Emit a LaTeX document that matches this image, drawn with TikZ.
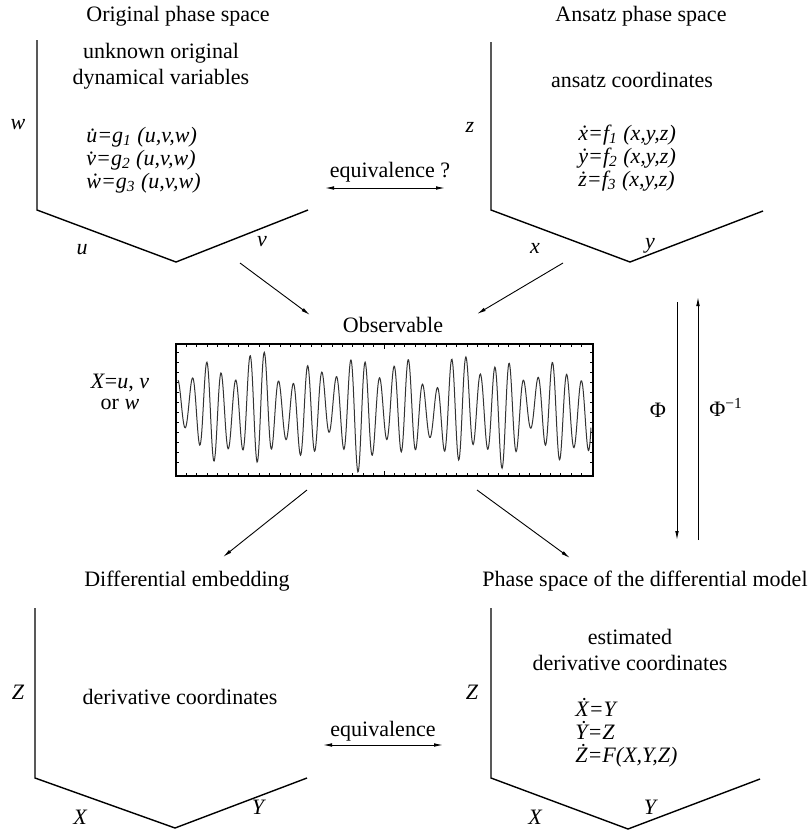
\documentclass[tikz,border=0pt]{standalone}
\usepackage{fontspec}
\setmainfont{Liberation Serif}
\usetikzlibrary{arrows.meta}
\begin{document}
\begin{tikzpicture}[x=0.5pt,y=-0.5pt,
  txt/.style={font=\fontsize{11}{13}\selectfont, inner sep=0pt},
  lbl/.style={font=\fontsize{11}{13}\selectfont\itshape, inner sep=0pt},
  eqs/.style={font=\fontsize{11}{11.5}\selectfont\itshape, inner sep=0pt, anchor=west, align=left},
  axisline/.style={line width=0.7pt, line join=miter},
  arr/.style={line width=0.45pt, -{Latex[length=4.5pt,width=1.8pt]}},
  darr/.style={line width=0.45pt, {Latex[length=4.5pt,width=1.8pt]}-{Latex[length=4.5pt,width=1.8pt]}},
  wave/.style={line width=0.5pt, black!80},
  tick/.style={line width=0.35pt}]
\useasboundingbox (0,0) rectangle (812,831);

% ---------- top-left panel
\node[txt] (tTL) at (178,16) {Original phase space};
\draw[axisline] (37,40) -- (37,210) -- (176,262) -- (308,210);
\node[txt, align=center] (dTL) at (161,66) {unknown original\\dynamical variables};
\node[eqs] (eTL) at (86,160) {\.u=g\textsubscript{1} (u,v,w)\\\.v=g\textsubscript{2} (u,v,w)\\\.w=g\textsubscript{3} (u,v,w)};
\node[lbl] (lw) at (18,125) {w};
\node[lbl] (lu) at (82,250) {u};
\node[lbl] (lv) at (262,242) {v};

% ---------- top-right panel
\node[txt] (tTR) at (641,16) {Ansatz phase space};
\draw[axisline] (491,42) -- (491,210) -- (630,262) -- (763,211);
\node[txt] (dTR) at (632,80) {ansatz coordinates};
\node[eqs] (eTR) at (578,158) {\.x=f\textsubscript{1} (x,y,z)\\\.y=f\textsubscript{2} (x,y,z)\\\.z=f\textsubscript{3} (x,y,z)};
\node[lbl] (lz) at (470,127) {z};
\node[lbl] (lx) at (535,248) {x};
\node[lbl] (ly) at (650,246) {y};

% ---------- equivalence ?
\node[txt] (eq1) at (390,172) {equivalence ?};
\coordinate (eq1l) at (325,188);
\coordinate (eq1r) at (445,188);
\draw[darr] (eq1l) -- (eq1r);

% ---------- observable
\node[txt] (obs) at (393,325) {Observable};
\node[draw, line width=0.6pt, minimum width=208.5pt, minimum height=66pt, inner sep=0pt] (box) at (384.5,410) {};
\foreach \tx in {186.4,196.8,...,590} {
  \draw[tick] (\tx,344) -- (\tx,347);
  \draw[tick] (\tx,476) -- (\tx,473);
}
\draw[tick] (384.5,344) -- (384.5,349);
\draw[tick] (384.5,476) -- (384.5,471);
\foreach \ty in {352,362,...,470} {
  \draw[tick] (176,\ty) -- (179,\ty);
  \draw[tick] (593,\ty) -- (590,\ty);
}
\draw[wave] plot[domain=178:591, samples=800]
  (\x, {410 - (40+12*sin(7.3*\x)+6*sin(3.1*\x+40))*cos(25*(\x-178)) + 5*sin(5.2*\x)});
\node[txt, align=center, font=\fontsize{11}{10.5}\selectfont] (xl) at (120,392) {\textit{X}=\textit{u}, \textit{v}\\or \textit{w}};

% arrows to / from observable
\coordinate (a1s) at (240,263); \coordinate (a1e) at (310,315);
\coordinate (a2s) at (563,263); \coordinate (a2e) at (477,314);
\coordinate (a3s) at (307,490); \coordinate (a3e) at (223,557);
\coordinate (a4s) at (477,490); \coordinate (a4e) at (570,558);
\draw[arr] (a1s) -- (a1e);
\draw[arr] (a2s) -- (a2e);
\draw[arr] (a3s) -- (a3e);
\draw[arr] (a4s) -- (a4e);

% ---------- Phi arrows
\coordinate (p1s) at (677,302); \coordinate (p1e) at (677,540);
\coordinate (p2s) at (698,540); \coordinate (p2e) at (698,297);
\draw[arr] (p1s) -- (p1e);
\draw[arr] (p2s) -- (p2e);
\node[txt] (phi) at (658,410) {Φ};
\node[txt] (phiinv) at (726,407) {Φ\textsuperscript{−1}};

% ---------- bottom-left panel
\node[txt] (tBL) at (187,581) {Differential embedding};
\draw[axisline] (35,608) -- (35,778) -- (175,828) -- (307,778);
\node[txt] (dBL) at (180,697) {derivative coordinates};
\node[lbl] (lZ1) at (18,692) {Z};
\node[lbl] (lX1) at (80,817) {X};
\node[lbl] (lY1) at (258,807) {Y};

% ---------- bottom-right panel
\node[txt] (tBR) at (645,581) {Phase space of the differential model};
\draw[axisline] (491,608) -- (491,778) -- (628,829) -- (760,779);
\node[txt, align=center] (dBR) at (630,650) {estimated\\derivative coordinates};
\node[eqs] (eBR) at (575,733) {\.X=Y\\\.Y=Z\\\.Z=F(X,Y,Z)};
\node[lbl] (lZ2) at (472,692) {Z};
\node[lbl] (lX2) at (535,817) {X};
\node[lbl] (lY2) at (650,807) {Y};

% ---------- equivalence
\node[txt] (eq2) at (383,731) {equivalence};
\coordinate (eq2l) at (323,745);
\coordinate (eq2r) at (443,745);
\draw[darr] (eq2l) -- (eq2r);
\end{tikzpicture}
\end{document}
